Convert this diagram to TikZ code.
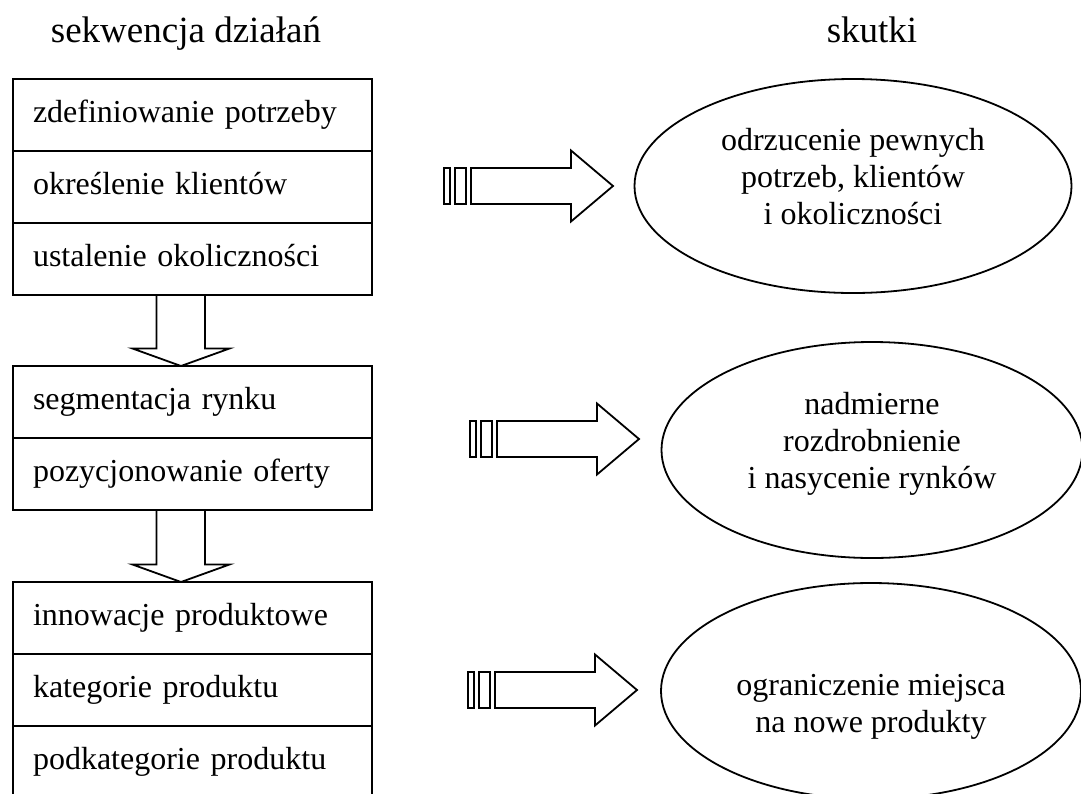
\documentclass[tikz,border=0pt]{standalone}
\usepackage{fontspec}
\setmainfont{Liberation Serif}
\usetikzlibrary{positioning,shapes.geometric,calc}

\tikzset{
    effect arrow/.pic={
        \draw (0,-18) -- (100,-18) -- (100,-35.5) -- (142,0) -- (100,35.5) -- (100,18) -- (0,18) -- cycle;
        \draw (-5,-18) rectangle (-16,18);
        \draw (-21,-18) rectangle (-27,18);
    }
}

\begin{document}
\begin{tikzpicture}[
        x=1pt, y=-1pt,
        line width=1.8pt,
        row/.style={rectangle, draw, outer sep=0pt, minimum height=72pt, text width=319pt,
            inner xsep=20pt, inner ysep=0pt, align=left, text height=22pt, text depth=7pt,
            font=\fontsize{32}{37}\selectfont},
        effect/.style={ellipse, draw, outer sep=0pt, inner sep=0pt},
        effect text/.style={align=center, inner sep=0pt, font=\fontsize{32}{37}\selectfont},
        heading/.style={anchor=base, font=\fontsize{37}{44}\selectfont}
    ]
        \path[use as bounding box, fill=white] (0,0) rectangle (1081,793);
        \clip (0,0) rectangle (1081,793);

        % Headings
        \node[heading] (T1) at (186,42) {sekwencja działań};
        \node[heading] (T2) at (872,42) {skutki};

        % Sequence of actions
        \node[row, anchor=north west] (A1) at (13,79) {zdefiniowanie potrzeby};
        \node[row, below=0pt of A1] (A2) {określenie klientów};
        \node[row, below=0pt of A2] (A3) {ustalenie okoliczności};

        \node[row, anchor=north west] (B1) at (13,366) {segmentacja rynku};
        \node[row, below=0pt of B1] (B2) {pozycjonowanie oferty};

        \node[row, anchor=north west] (C1) at (13,582) {innowacje produktowe};
        \node[row, below=0pt of C1] (C2) {kategorie produktu};
        \node[row, below=0pt of C2] (C3) {podkategorie produktu};

        % Down arrows
        \foreach \a/\b in {A3/B1, B2/C1} {
            \draw ($(\a.south)+(-36,0)$) |- ($(\b.north)+(-60,-17.5)$) -- ($(\b.north)+(-11.5,0)$)
                -- ($(\b.north)+(37,-17.5)$) -| ($(\a.south)+(12.5,0)$);
        }

        % Effects
        \node[effect, minimum width=437pt, minimum height=214pt] (E1) at (853,186) {};
        \node[effect, minimum width=421pt, minimum height=216pt] (E2) at (872,450) {};
        \node[effect, minimum width=420pt, minimum height=216pt] (E3) at (871,691) {};

        \node[effect text] (E1t) at ($(E1.center)+(0,-9)$) {odrzucenie pewnych\\potrzeb, klientów\\i okoliczności};
        \node[effect text] (E2t) at ($(E2.center)+(0,-6)$) {nadmierne\\rozdrobnienie\\i nasycenie rynków};
        \node[effect text] (E3t) at ($(E3.center)+(0,16)$) {ograniczenie miejsca\\na nowe produkty};

        % Right arrows
        \pic at (471,186) {effect arrow};
        \pic at (497,439) {effect arrow};
        \pic at (495,690) {effect arrow};
    \end{tikzpicture}
\end{document}
